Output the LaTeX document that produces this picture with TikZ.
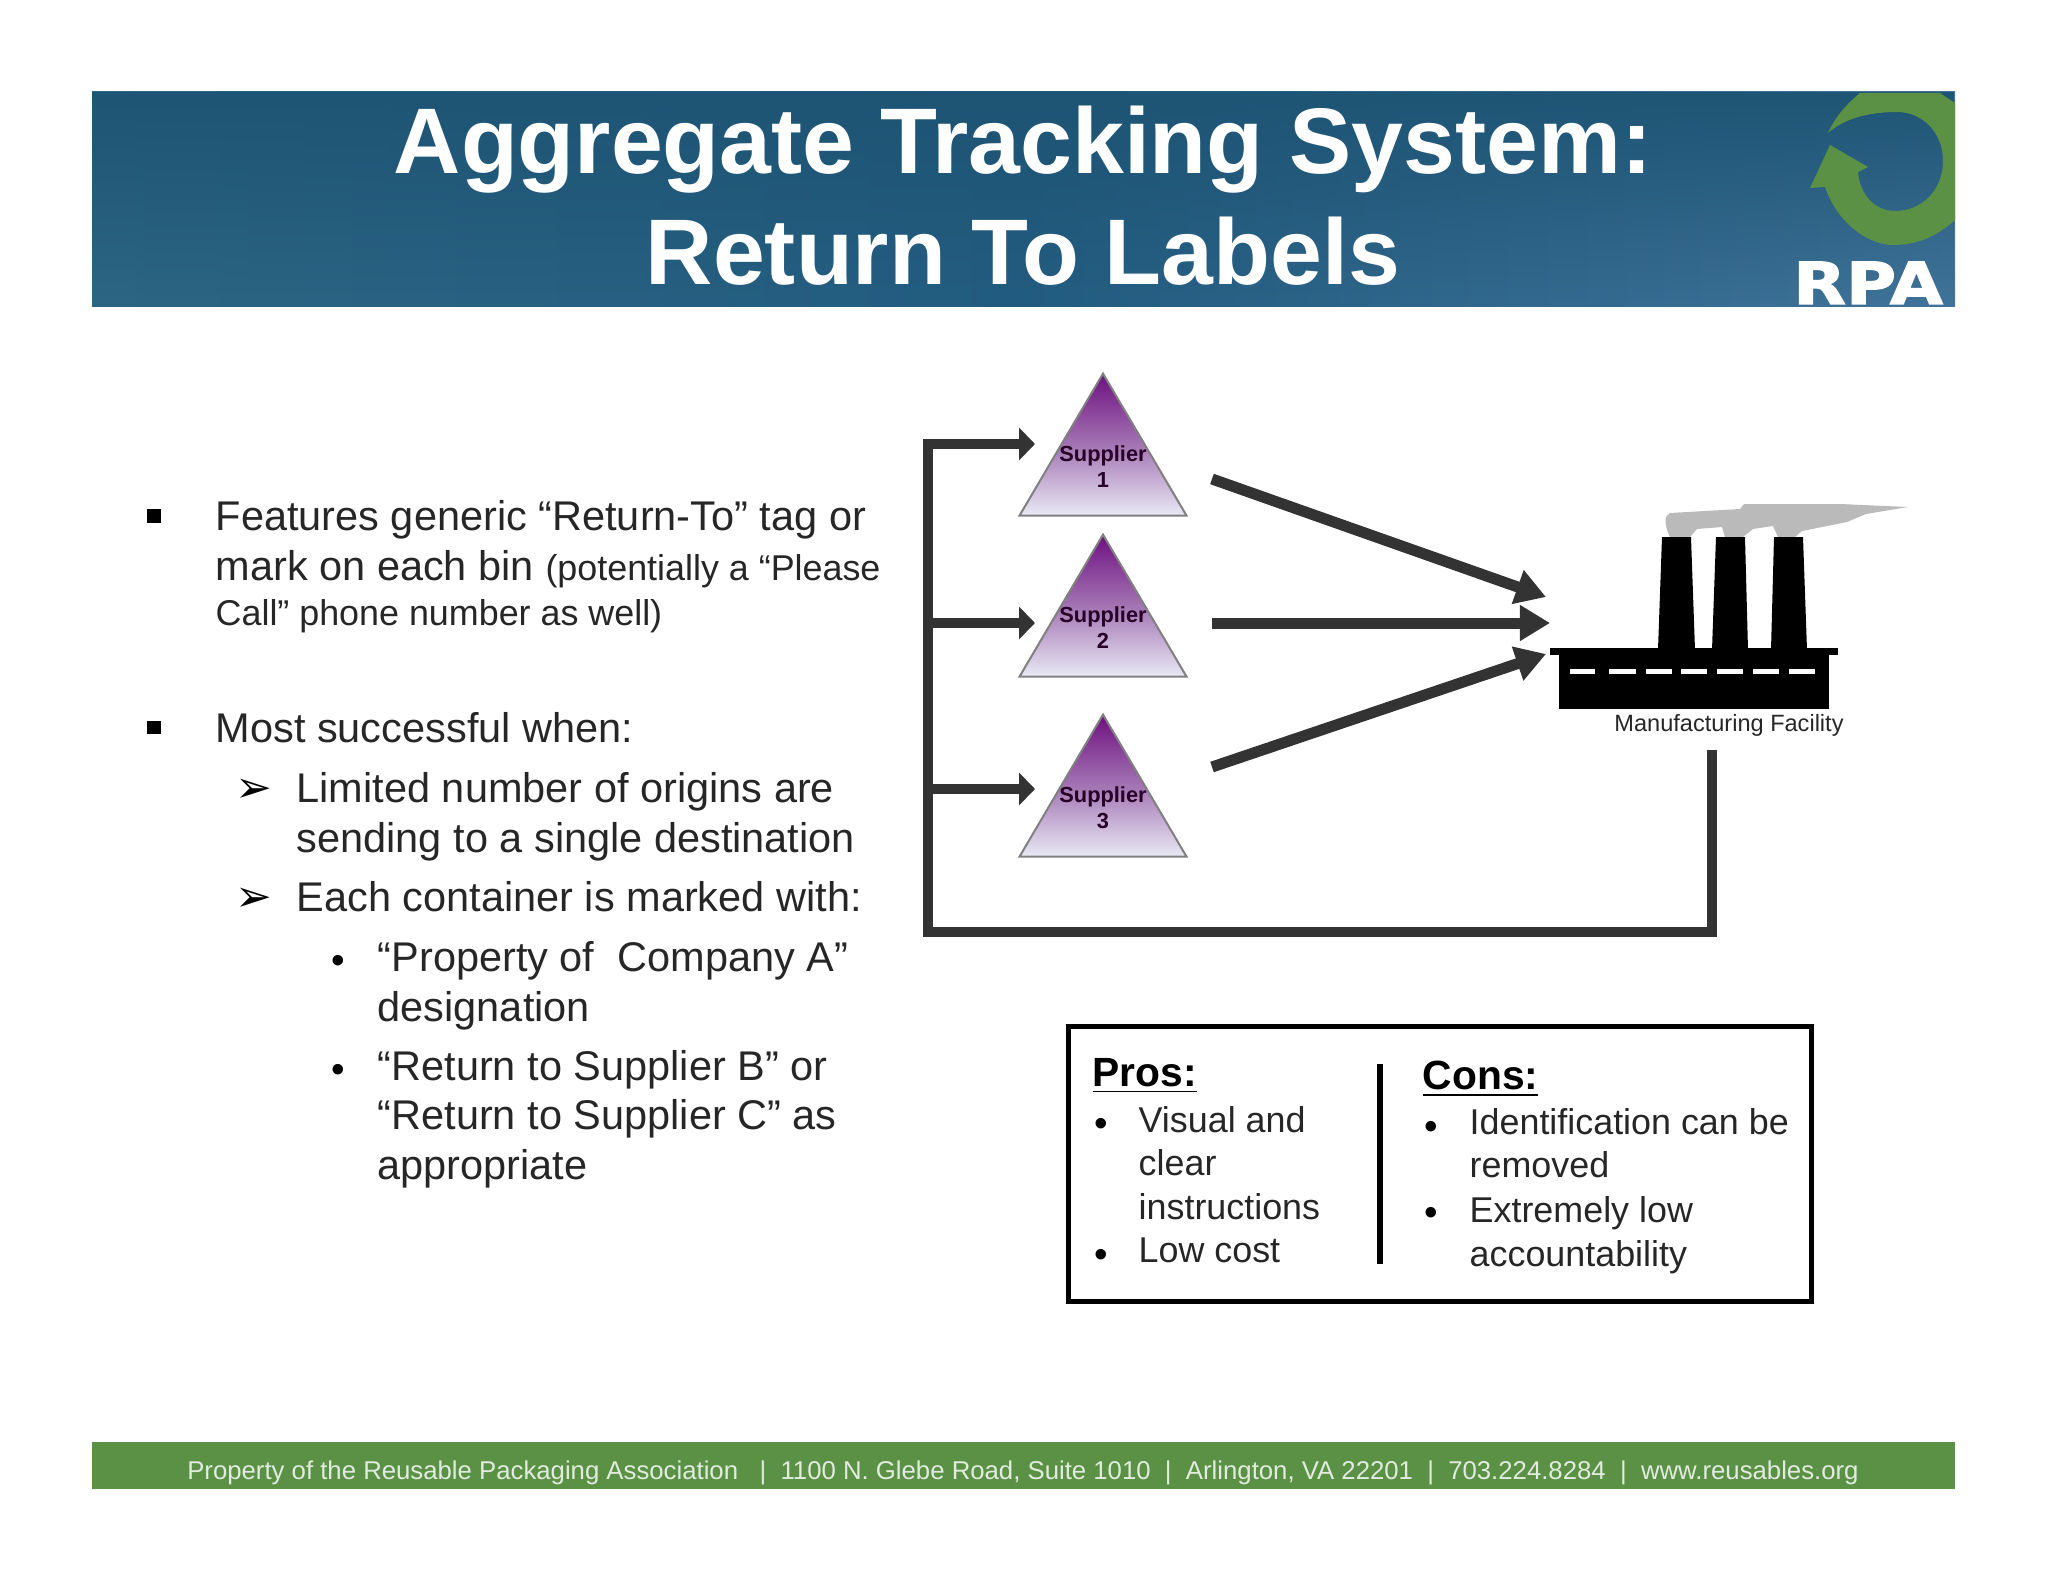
\documentclass[tikz,border=0pt]{standalone}
\usepackage{fontspec}
\setmainfont{Liberation Sans}
\newfontfamily\symfont[BoldFeatures={FakeBold=2}]{DejaVu Sans}
\usetikzlibrary{shapes.geometric, arrows.meta, calc, positioning, fadings}
\definecolor{ink}{HTML}{262626}
\definecolor{flowgray}{HTML}{333333}
\definecolor{rpagreen}{HTML}{5A9145}
\definecolor{bannertop}{HTML}{1E5474}
\definecolor{bannerleft}{HTML}{2D6584}
\definecolor{bannermid}{HTML}{225C80}
\definecolor{bannerright}{HTML}{41749A}
\definecolor{triangletop}{HTML}{6E1080}
\definecolor{trianglemid}{HTML}{A374B3}
\definecolor{trianglelow}{HTML}{E9E9F5}
\tikzset{
  bodytext/.style={anchor=west, align=left, inner sep=0pt, text=ink, font=\fontsize{11.8}{14.1}\selectfont},
  boxtext/.style={anchor=west, align=left, inner sep=0pt, text=ink, font=\fontsize{10.2}{12.4}\selectfont},
  boxhead/.style={anchor=west, inner sep=0pt, text=black, font=\fontsize{11.6}{14}\selectfont\bfseries},
  squaremark/.style={fill=black, inner sep=0pt, minimum size=0.13cm},
  arrowmark/.style={inner sep=0pt, text=black, font=\fontsize{12.5}{14}\symfont},
  dotmark/.style={inner sep=0pt, text=black, font=\fontsize{11}{13}\selectfont},
  flow/.style={draw=flowgray, line width=0.1cm},
  flowin/.style={flow, ->, >={Triangle[length=0.16cm, width=0.32cm]}},
  flowout/.style={flow, line width=0.11cm, ->, >={Triangle[length=0.3cm, width=0.34cm]}},
  supplier/.style={isosceles triangle, shape border rotate=90, isosceles triangle stretches,
    minimum width=1.67cm, minimum height=1.42cm, inner sep=0pt, anchor=apex, draw=gray, line width=0.02cm,
    top color=triangletop, bottom color=trianglelow, middle color=trianglemid},
  supplierlabel/.style={align=center, inner sep=0pt, text=black!70!violet, font=\fontsize{6.2}{7.4}\selectfont\bfseries}
}
\begin{document}
\begin{tikzpicture}[x=0.01cm, y=-0.01cm]
  \useasboundingbox (0,0) rectangle (2048,1582);

  \shade[left color=bannerleft, right color=bannerright, middle color=bannermid] (92,92) rectangle (1955,307);
  \fill[bannertop, path fading=south] (92,92) rectangle (1955,307);
  \fill[rpagreen] (1828,133) .. controls (1836,115) and (1848,103) .. (1860,93) -- (1940,93) -- (1955,103) -- (1955,220)
    .. controls (1935,238) and (1915,245) .. (1893,245)
    .. controls (1870,245) and (1838,225) .. (1825,187)
    -- (1810,188) -- (1830,145) -- (1868,167) -- (1858,172)
    .. controls (1860,195) and (1875,211) .. (1895,211)
    .. controls (1922,211) and (1943,190) .. (1943,161)
    .. controls (1943,132) and (1922,112) .. (1897,112)
    .. controls (1870,112) and (1845,118) .. (1828,133) -- cycle;
  \node[anchor=base, inner sep=0pt, text=white, xscale=1.18, font=\fontsize{16.5}{18}\symfont\bfseries] (rpa) at (1868,304) {RPA};
  \node[align=center, inner sep=0pt, text=white, font=\fontsize{26.5}{31.6}\selectfont\bfseries] (title) at (1023,196)
    {Aggregate Tracking System:\\Return To Labels};

  \foreach \N/\X/\Y in {A/154/516, B/154/727} {
    \node[squaremark] (square\N) at (\X,\Y) {};
  }
  \foreach \N/\Y in {A/791, B/900} {
    \node[arrowmark] (arrow\N) at (254,\Y) {➢};
  }
  \foreach \N/\Y in {A/964, B/1073} {
    \node[dotmark] (dot\N) at (338,\Y) {•};
  }
  \node[bodytext] (features) at (215,567)
    {Features generic “Return-To” tag or\\mark on each bin {\fontsize{10.2}{12}\selectfont (potentially a “Please}\\[-1.1pt]
     {\fontsize{10.2}{12}\selectfont Call” phone number as well)}};
  \node[bodytext] (successful) at (215,728) {Most successful when:};
  \node[bodytext] (limited) at (296,817) {Limited number of origins are\\sending to a single destination};
  \node[bodytext] (marked) at (296,897) {Each container is marked with:};
  \node[bodytext] (property) at (377,986) {“Property of\ \ Company A”\\designation};
  \node[bodytext] (returnto) at (377,1119) {“Return to Supplier B” or\\“Return to Supplier C” as\\appropriate};

  \foreach \N/\Y/\A in {1/371/444, 2/532/623, 3/712/789} {
    \node[supplier] (tri\N) at (1103,\Y) {};
    \node[supplierlabel] (label\N) at ($(tri\N.apex)+(0,96)$) {Supplier\\\N};
    \coordinate (in\N) at (1035,\A);
  }
  \foreach \N/\Sy/\Ex/\Ey in {1/479/1546/597, 2/623/1550/623, 3/767/1546/654} {
    \coordinate (out\N) at (1212,\Sy);
    \coordinate (dock\N) at (\Ex,\Ey);
    \draw[flowout] (out\N) -- (dock\N);
  }

  \fill[black!27] (1670,537) .. controls (1664,525) and (1664,515) .. (1670,513)
    -- (1740,509) -- (1744,504) -- (1840,504) -- (1908,507) -- (1866,514) -- (1847,522)
    -- (1802,531) -- (1795,537) -- (1778,537) -- (1773,526) -- (1753,529) -- (1743,537)
    -- (1725,537) -- (1722,527) -- (1697,529) -- (1690,537) -- cycle;
  \foreach \Ta/\Tb/\Ba/\Bb in {1662/1691/1658/1695, 1716/1745/1712/1748, 1774/1803/1771/1807} {
    \fill[black] (\Ta,537) -- (\Tb,537) -- (\Bb,650) -- (\Ba,650) -- cycle;
  }
  \fill[black] (1550,648) rectangle (1838,655);
  \fill[black] (1559,655) rectangle (1829,709);
  \foreach \Da/\Db in {1570/1595, 1609/1636, 1646/1672, 1681/1707, 1717/1743, 1753/1779, 1789/1815} {
    \fill[white] (\Da,668.5) rectangle (\Db,673.5);
  }
  \node[inner sep=0pt, text=ink, font=\fontsize{6.7}{8}\selectfont] (facility) at (1729,725) {Manufacturing Facility};

  \coordinate (back) at (1712,750);
  \coordinate (corner) at (928,932);
  \draw[flowin] (back) |- (corner) |- (in1);
  \draw[flowin] (corner |- in2) -- (in2);
  \draw[flowin] (corner |- in3) -- (in3);

  \node[draw=black, line width=0.05cm, minimum width=7.42cm, minimum height=2.75cm, inner sep=0pt] (probox) at (1440,1164) {};
  \coordinate (splittop) at (1380,1064);
  \coordinate (splitlow) at (1380,1264);
  \draw[black, line width=0.06cm] (splittop) -- (splitlow);
  \node[boxhead] (pros) at (1092,1076) {\underline{Pros:}};
  \node[boxhead] (cons) at (1422,1079) {\underline{Cons:}};
  \foreach \N/\X/\Y in {A/1101/1127, B/1101/1258, C/1431/1130, D/1431/1216} {
    \node[dotmark] (boxdot\N) at (\X,\Y) {•};
  }
  \node[boxtext] (visual) at (1138,1163) {Visual and\\clear\\instructions};
  \node[boxtext] (cost) at (1138,1250) {Low cost};
  \node[boxtext] (identification) at (1469,1143) {Identification can be\\removed};
  \node[boxtext] (extremely) at (1469,1235) {Extremely low\\accountability};

  \fill[rpagreen] (92,1442) rectangle (1955,1489);
  \node[inner sep=0pt, text=white!82!rpagreen, font=\fontsize{7.32}{9}\selectfont] (footer) at (1023,1473)
    {Property of the Reusable Packaging Association\ \ \ |\ \ 1100 N. Glebe Road, Suite 1010\ \ |\ \ Arlington, VA 22201\ \ |\ \ 703.224.8284\ \ |\ \ www.reusables.org};
\end{tikzpicture}
\end{document}
